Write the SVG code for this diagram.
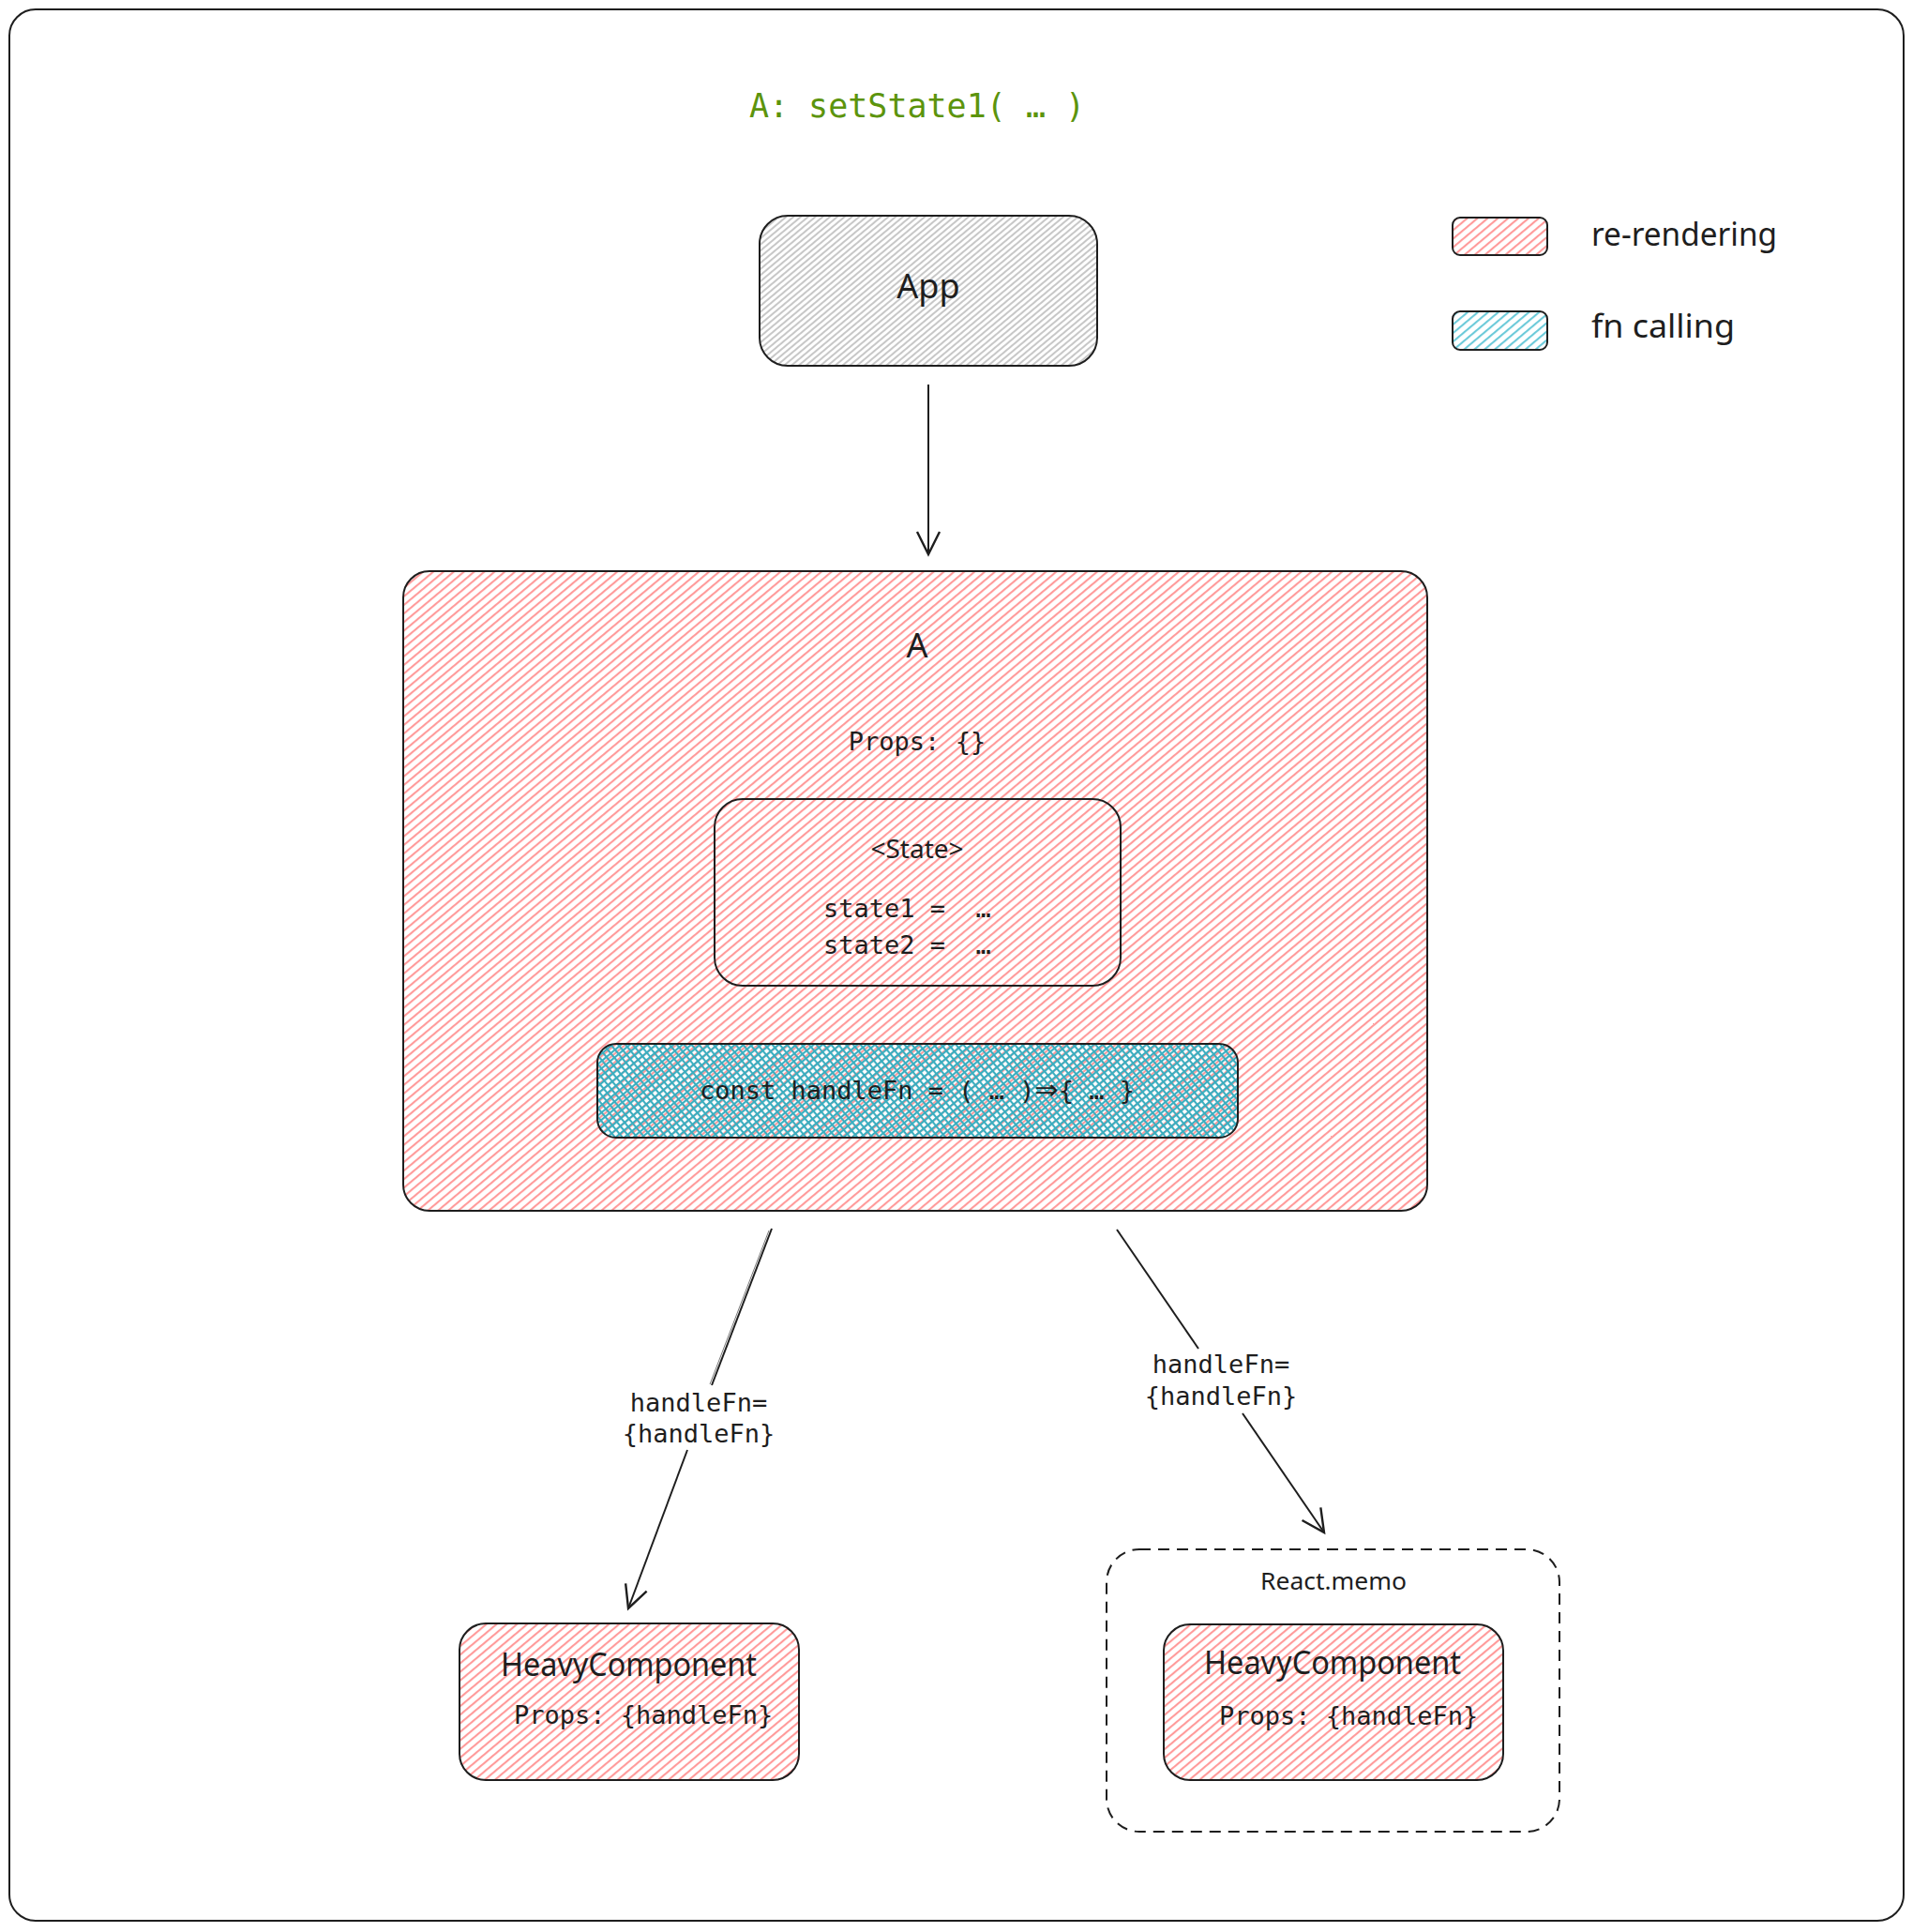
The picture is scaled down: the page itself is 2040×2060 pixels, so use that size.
<svg xmlns="http://www.w3.org/2000/svg" width="2040" height="2060" viewBox="0 0 2040 2060">
<defs>
  <pattern id="hRed" width="7" height="7" patternUnits="userSpaceOnUse" patternTransform="rotate(50)">
    <line x1="1" y1="0" x2="1" y2="7" stroke="#ff9a9a" stroke-width="2.2"/>
  </pattern>
  <pattern id="hGray" width="5" height="5" patternUnits="userSpaceOnUse" patternTransform="rotate(50)">
    <line x1="1" y1="0" x2="1" y2="5" stroke="#b4b4b4" stroke-width="1.5"/>
  </pattern>
  <pattern id="hBlue" width="7" height="7" patternUnits="userSpaceOnUse" patternTransform="rotate(50)">
    <line x1="1" y1="0" x2="1" y2="7" stroke="#6ccad9" stroke-width="2.2"/>
  </pattern>
  <pattern id="xBlue" width="6" height="6" patternUnits="userSpaceOnUse" patternTransform="rotate(50)">
    <line x1="1" y1="0" x2="1" y2="6" stroke="#3aaec0" stroke-width="2.2"/>
    <line x1="0" y1="1" x2="6" y2="1" stroke="#3aaec0" stroke-width="2.2"/>
  </pattern>
  <marker id="arrow" viewBox="0 0 20 20" refX="18" refY="10" markerWidth="30" markerHeight="30" markerUnits="userSpaceOnUse" orient="auto">
    <path d="M2,2 L18,10 L2,18" fill="none" stroke="#1e1e1e" stroke-width="1.6"/>
  </marker>
</defs>
<style>
  .box { stroke: #1e1e1e; stroke-width: 2; }
  .mono { font-family: "DejaVu Sans Mono", "Liberation Mono", monospace; fill: #1e1e1e; white-space: pre; }
  .hand { font-family: "Noto Sans", "Liberation Sans", sans-serif; fill: #1e1e1e; }
  .conn { fill: none; stroke: #1e1e1e; stroke-width: 2; }
</style>

<rect id="frame" x="10" y="10" width="2020" height="2038" rx="28" fill="#ffffff" class="box"/>

<g id="title">
  <text x="978" y="125" text-anchor="middle" font-size="35" class="mono" style="fill:#5c940d">A: setState1( … )</text>
</g>

<g id="legend-rerendering">
  <rect x="1549" y="232" width="101" height="40" rx="8" fill="url(#hRed)" class="box"/>
  <text x="1697" y="262" font-size="34" class="hand" textLength="198" lengthAdjust="spacingAndGlyphs">re-rendering</text>
</g>
<g id="legend-fn-calling">
  <rect x="1549" y="332" width="101" height="41" rx="8" fill="url(#hBlue)" class="box"/>
  <text x="1697" y="360" font-size="34" class="hand" textLength="153" lengthAdjust="spacingAndGlyphs">fn calling</text>
</g>

<g id="node-app">
  <rect x="810" y="230" width="360" height="160" rx="30" fill="url(#hGray)" class="box"/>
  <text x="990" y="318" text-anchor="middle" font-size="36" class="hand">App</text>
</g>

<g id="node-a">
  <rect x="430" y="609" width="1092" height="682" rx="28" fill="url(#hRed)" class="box"/>
  <text x="978" y="701" text-anchor="middle" font-size="36" class="hand">A</text>
  <text x="978" y="800" text-anchor="middle" font-size="27" class="mono">Props: {}</text>
  <g id="node-state">
    <rect x="762" y="852" width="433" height="199" rx="30" fill="none" class="box"/>
    <text x="978" y="915" text-anchor="middle" font-size="28" class="hand">&lt;State&gt;</text>
    <text x="878" y="978" font-size="27" class="mono" xml:space="preserve">state1 =  …</text>
    <text x="878" y="1017" font-size="27" class="mono" xml:space="preserve">state2 =  …</text>
  </g>
  <g id="node-handlefn">
    <rect x="637" y="1113" width="683" height="100" rx="20" fill="url(#xBlue)" class="box"/>
    <text x="978" y="1172" text-anchor="middle" font-size="27" class="mono">const handleFn = ( … )<tspan font-family="DejaVu Sans, sans-serif" font-size="30">⇒</tspan>{ … }</text>
  </g>
</g>

<g id="node-heavy-1">
  <rect x="490" y="1731" width="362" height="167" rx="28" fill="url(#hRed)" class="box"/>
  <text x="534" y="1787" font-size="34" class="hand" textLength="273" lengthAdjust="spacingAndGlyphs">HeavyComponent</text>
  <text x="548" y="1838" font-size="27" class="mono">Props: {handleFn}</text>
</g>

<g id="node-memo">
  <rect x="1180" y="1652" width="483" height="301" rx="35" fill="none" stroke="#1e1e1e" stroke-width="2" stroke-dasharray="12 8"/>
  <text x="1422" y="1695" text-anchor="middle" font-size="26" class="hand" textLength="156" lengthAdjust="spacingAndGlyphs">React.memo</text>
  <g id="node-heavy-2">
    <rect x="1241" y="1732" width="362" height="166" rx="28" fill="url(#hRed)" class="box"/>
    <text x="1284" y="1785" font-size="34" class="hand" textLength="274" lengthAdjust="spacingAndGlyphs">HeavyComponent</text>
    <text x="1300" y="1839" font-size="27" class="mono">Props: {handleFn}</text>
  </g>
</g>

<g id="connectors">
  <path d="M990,410 L990,591" class="conn" marker-end="url(#arrow)"/>
  <path d="M823,1310 L759,1477" class="conn"/>
  <path d="M820,1312 L757,1476" fill="none" stroke="#1e1e1e" stroke-width="1" opacity="0.6"/>
  <path d="M733,1546 L670,1715" class="conn" marker-end="url(#arrow)"/>
  <text x="745" y="1505" text-anchor="middle" font-size="27" class="mono">handleFn=</text>
  <text x="745" y="1538" text-anchor="middle" font-size="27" class="mono">{handleFn}</text>
  <path d="M1191,1311 L1278,1438" class="conn"/>
  <path d="M1325,1507 L1412,1634" class="conn" marker-end="url(#arrow)"/>
  <text x="1302" y="1464" text-anchor="middle" font-size="27" class="mono">handleFn=</text>
  <text x="1302" y="1498" text-anchor="middle" font-size="27" class="mono">{handleFn}</text>
</g>
</svg>
